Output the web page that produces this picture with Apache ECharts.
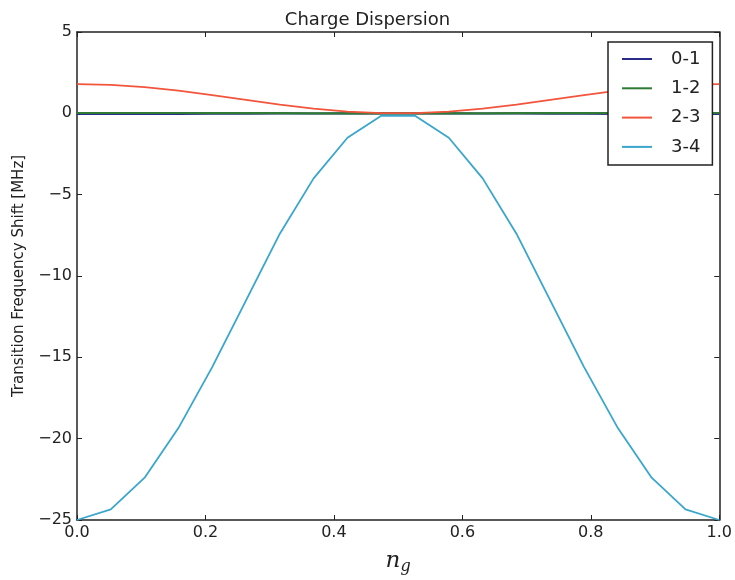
<!DOCTYPE html>
<html>
<head>
<meta charset="utf-8">
<script src="https://cdn.jsdelivr.net/npm/echarts@6/dist/echarts.min.js"></script>
<style>
html,body{margin:0;padding:0;background:#fff;}
#c{width:735px;height:580px;}
</style>
</head>
<body>
<div id="c"></div>
<script>
var ng = [0.0, 0.0526, 0.1053, 0.1579, 0.2105, 0.2632, 0.3158, 0.3684, 0.4211, 0.4737,
          0.5263, 0.5789, 0.6316, 0.6842, 0.7368, 0.7895, 0.8421, 0.8947, 0.9474, 1.0];
var s01 = [-0.03, -0.03, -0.03, -0.03, -0.02, -0.02, -0.01, -0.01, 0.0, 0.0,
           0.0, 0.0, -0.01, -0.01, -0.02, -0.02, -0.03, -0.03, -0.03, -0.03];
var s12 = [0.02, 0.02, 0.02, 0.02, 0.01, 0.01, 0.01, 0.0, 0.0, 0.0,
           0.0, 0.0, 0.0, 0.01, 0.01, 0.01, 0.02, 0.02, 0.02, 0.02];
var s23 = [1.8, 1.75, 1.61, 1.39, 1.12, 0.83, 0.54, 0.29, 0.11, 0.01,
           0.01, 0.11, 0.29, 0.54, 0.83, 1.12, 1.39, 1.61, 1.75, 1.8];
var s34 = [-25.0, -24.35, -22.4, -19.35, -15.6, -11.5, -7.4, -4.0, -1.5, -0.15,
           -0.15, -1.5, -4.0, -7.4, -11.5, -15.6, -19.35, -22.4, -24.35, -25.0];
var names = ['0-1', '1-2', '2-3', '3-4'];
var colors = ['#2a2c8c', '#2f7a34', '#f2553c', '#3aa6cc'];

function pairs(ys){ return ys.map(function(v,i){ return [ng[i], v]; }); }
var F = 'DejaVu Sans';
var chart = echarts.init(document.getElementById('c'), null, {renderer:'canvas'});
var axisBase = {
  axisLine:{show:true, onZero:false, lineStyle:{color:'#222', width:1.5}},
  axisTick:{show:true, inside:true, length:5, lineStyle:{color:'#222', width:1}},
  splitLine:{show:false}
};
function mk(o){ return Object.assign({}, JSON.parse(JSON.stringify(axisBase)), o); }
var lineIcon = 'path://M0,0L30,0L30,2L0,2Z';
chart.setOption({
  animation:false,
  backgroundColor:'#fff',
  title:{text:'Charge Dispersion', left:'center', top:6,
    textStyle:{fontFamily:F, fontSize:18, fontWeight:'normal', color:'#222'}},
  grid:{left:77, right:9, top:32, bottom:49, containLabel:false},
  legend:{
    orient:'vertical', left:608, top:42, width:107,
    backgroundColor:'#fff', borderColor:'#222', borderWidth:1.5, borderRadius:0,
    padding:[8,12,9,14], itemWidth:30, itemHeight:14, itemGap:11.3,
    icon:lineIcon,
    textStyle:{fontFamily:F, fontSize:18, lineHeight:18, color:'#222', padding:[0,0,0,14]},
    data:names.map(function(n,i){ return {name:n, icon:lineIcon, itemStyle:{color:colors[i]}}; })
  },
  xAxis:[
    mk({type:'value', min:0, max:1, interval:0.2, position:'bottom',
      name:'{n|n}{g|g}', nameLocation:'middle', nameGap:27,
      nameTextStyle:{rich:{n:{fontFamily:'DejaVu Serif', fontStyle:'italic', fontSize:23, color:'#222'},
                           g:{fontFamily:'DejaVu Serif', fontStyle:'italic', fontSize:16, color:'#222', padding:[12,0,0,0]}}},
      axisLabel:{fontFamily:F, fontSize:16, color:'#222', margin:5,
        formatter:function(v){ return v.toFixed(1); }}}),
    mk({type:'value', min:0, max:1, interval:0.2, position:'top', axisLabel:{show:false}})
  ],
  yAxis:[
    mk({type:'value', min:-25, max:5, interval:5, position:'left',
      name:'Transition Frequency Shift [MHz]', nameLocation:'middle', nameGap:50,
      nameTextStyle:{fontFamily:F, fontSize:15, color:'#222'},
      axisLabel:{fontFamily:F, fontSize:16, color:'#222', margin:5,
        formatter:function(v){ return String(v).replace('-', '\u2212'); }}}),
    mk({type:'value', min:-25, max:5, interval:5, position:'right', axisLabel:{show:false}})
  ],
  series:[s01, s12, s23, s34].map(function(d, i){
    return {name:names[i], type:'line', data:pairs(d), symbol:'none', showSymbol:false,
      xAxisIndex:0, yAxisIndex:0,
      lineStyle:{color:colors[i], width:i<2?2.2:1.8}, itemStyle:{color:colors[i]}};
  })
});
</script>
</body>
</html>
